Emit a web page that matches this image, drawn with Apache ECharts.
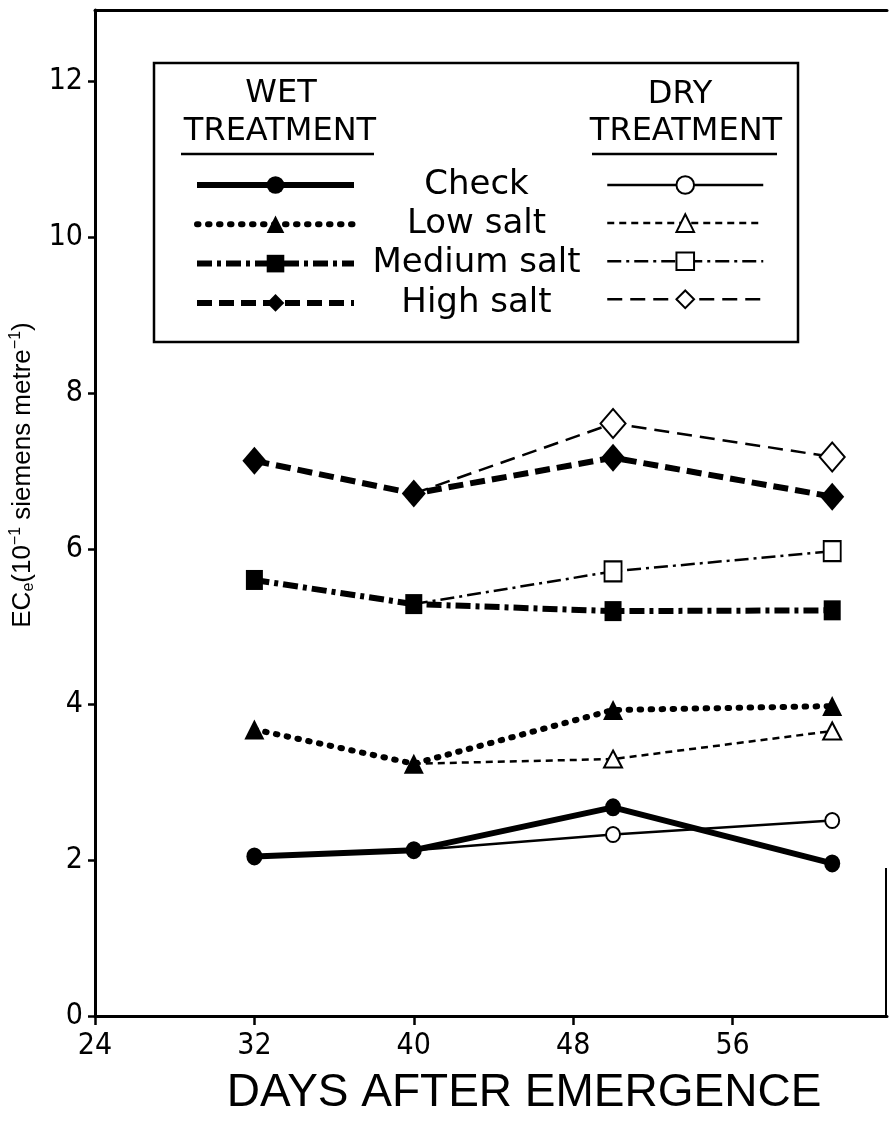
<!DOCTYPE html>
<html>
<head>
<meta charset="utf-8">
<title>EC_e after emergence</title>
<script src="https://cdn.jsdelivr.net/npm/echarts@6/dist/echarts.min.js"></script>
<style>
  html, body { margin: 0; padding: 0; background: #fff; }
  #chart { width: 889px; height: 1121px; }
</style>
</head>
<body>
<div id="chart"></div>
<script>
// Sampling days (days after emergence)
const days = [32, 40, 50, 61];
// The dry treatment branches off the wet curves at day 40
const dryDays = [40, 50, 61];

const salinity = ['Check', 'Low salt', 'Medium salt', 'High salt'];

// EC_e, 10^-1 siemens per metre
const wetCheck  = [2.05, 2.13, 2.68, 1.96];
const wetLow    = [3.68, 3.24, 3.93, 3.98];
const wetMedium = [5.60, 5.29, 5.20, 5.21];
const wetHigh   = [7.13, 6.71, 7.17, 6.67];

const dryCheck  = [2.13, 2.33, 2.51];
const dryLow    = [3.24, 3.30, 3.66];
const dryMedium = [5.29, 5.71, 5.97];
const dryHigh   = [6.71, 7.61, 7.18];

const xTicks = [24, 32, 40, 48, 56];
const yTicks = [0, 2, 4, 6, 8, 10, 12];

const tickFont = "'Liberation Sans Narrow', 'DejaVu Sans Condensed', 'Liberation Sans', sans-serif";
const textFont = "'DejaVu Sans', 'Liberation Sans', sans-serif";
const INK = '#000';

function wetSeries(name, vals, symbol, size, dash) {
  return {
    name: name,
    type: 'line',
    data: days.map((d, i) => [d, vals[i]]),
    symbol: symbol,
    symbolSize: size,
    lineStyle: { color: INK, width: 6, type: dash, cap: 'butt' },
    itemStyle: { color: INK },
    z: 4,
    animation: false,
    silent: true
  };
}

function drySeries(name, vals, symbol, size, dash) {
  return {
    name: name,
    type: 'line',
    // first point sits on the wet marker, so it gets no symbol of its own
    data: dryDays.map((d, i) => i === 0 ? { value: [d, vals[i]], symbol: 'none' } : [d, vals[i]]),
    symbol: symbol,
    symbolSize: size,
    lineStyle: { color: INK, width: 2.5, type: dash, cap: 'butt' },
    itemStyle: { color: INK, borderWidth: 2.5 },
    z: 3,
    animation: false,
    silent: true
  };
}

const dryNames = salinity.map(s => s + ' (dry)');

const series = [
  drySeries(dryNames[0], dryCheck,  'emptyCircle',   [14, 15], 'solid'),
  drySeries(dryNames[1], dryLow,    'emptyTriangle', [18, 17], [7, 5]),
  drySeries(dryNames[2], dryMedium, 'emptyRect',     [17, 20], [14, 5, 3, 5]),
  drySeries(dryNames[3], dryHigh,   'emptyDiamond',  [25, 29], [15, 8]),
  wetSeries(salinity[0], wetCheck,  'circle',   [16, 18], 'solid'),
  wetSeries(salinity[1], wetLow,    'triangle', [20, 20], [1.5, 9.5]),
  wetSeries(salinity[2], wetMedium, 'rect',     [17, 20], [15, 5, 4, 5]),
  wetSeries(salinity[3], wetHigh,   'diamond',  [24, 28], [15, 7])
];
// the wet dotted line uses round dots
series[5].lineStyle.cap = 'round';

const chart = echarts.init(document.getElementById('chart'), null, { renderer: 'canvas' });

const option = {
  animation: false,
  backgroundColor: '#fff',
  grid: { left: 93, right: 2, top: 10, bottom: 99 },
  xAxis: [
    {
      type: 'value',
      position: 'bottom',
      min: 24,
      max: 63.75,
      interval: 8,
      axisLine: { show: true, onZero: false, lineStyle: { color: INK, width: 3 } },
      axisTick: { show: true, length: 9, customValues: xTicks, lineStyle: { color: INK, width: 2.5 } },
      axisLabel: { customValues: xTicks, margin: 15, fontSize: 30, fontFamily: tickFont, color: INK },
      splitLine: { show: false },
      name: 'DAYS AFTER EMERGENCE',
      nameLocation: 'middle',
      nameGap: 54,
      nameTextStyle: { fontSize: 46, fontFamily: "'Liberation Sans', sans-serif", color: INK, padding: [0, 0, 0, 66] }
    },
    {
      type: 'value',
      position: 'top',
      min: 24,
      max: 63.75,
      axisLine: { show: true, onZero: false, lineStyle: { color: INK, width: 3 } },
      axisTick: { show: false },
      axisLabel: { show: false },
      splitLine: { show: false }
    }
  ],
  yAxis: {
    type: 'value',
    min: 0,
    max: 12.92,
    interval: 2,
    axisLine: { show: true, onZero: false, lineStyle: { color: INK, width: 3 } },
    axisTick: { show: true, length: 7, customValues: yTicks, lineStyle: { color: INK, width: 2.5 } },
    axisLabel: { customValues: yTicks, margin: 12, fontSize: 30, fontFamily: tickFont, color: INK },
    splitLine: { show: false },
    name: '{n|EC}{s|e}{n|(10}{p|\u22121}{n| siemens metre}{p|\u22121}{n|)}',
    nameLocation: 'middle',
    nameRotate: 90,
    nameGap: 58,
    nameTextStyle: {
      color: INK,
      fontFamily: "'Liberation Sans', sans-serif",
      fontSize: 26,
      padding: [0, 0, 0, 76],
      rich: {
        n: { fontSize: 26, lineHeight: 29, fontFamily: "'Liberation Sans', sans-serif", color: INK },
        s: { fontSize: 16, lineHeight: 16, verticalAlign: 'bottom', fontFamily: "'Liberation Sans', sans-serif", color: INK },
        p: { fontSize: 16, lineHeight: 16, verticalAlign: 'top', fontFamily: "'Liberation Sans', sans-serif", color: INK }
      }
    }
  },
  legend: [
    {
      orient: 'vertical',
      left: 194,
      top: 168,
      padding: 0,
      itemWidth: 157,
      itemHeight: 22,
      itemGap: 5.3,
      selectedMode: false,
      data: salinity,
      lineStyle: { width: 6 },
      formatter: name => '{c|' + name + '}',
      textStyle: {
        rich: {
          c: { width: 235, align: 'center', fontSize: 34, lineHeight: 22, fontFamily: textFont, color: INK }
        }
      }
    },
    {
      orient: 'vertical',
      left: 606,
      top: 174,
      padding: 0,
      itemWidth: 156,
      itemHeight: 22,
      itemGap: 17.3,
      selectedMode: false,
      data: dryNames,
      lineStyle: { width: 2.5 },
      formatter: () => ''
    }
  ],
  graphic: [
    { type: 'rect', silent: true, shape: { x: 154, y: 63, width: 644, height: 279 },
      style: { fill: null, stroke: INK, lineWidth: 2.5 } },
    { type: 'text', silent: true, x: 281, y: 94,
      style: { text: 'WET', font: "32px " + textFont, fill: INK, align: 'center', verticalAlign: 'middle' } },
    { type: 'text', silent: true, x: 280, y: 132,
      style: { text: 'TREATMENT', font: "32px " + textFont, fill: INK, align: 'center', verticalAlign: 'middle' } },
    { type: 'line', silent: true, shape: { x1: 181, y1: 154, x2: 374, y2: 154 },
      style: { stroke: INK, lineWidth: 2.5 } },
    { type: 'text', silent: true, x: 680, y: 95,
      style: { text: 'DRY', font: "32px " + textFont, fill: INK, align: 'center', verticalAlign: 'middle' } },
    { type: 'text', silent: true, x: 686, y: 132,
      style: { text: 'TREATMENT', font: "32px " + textFont, fill: INK, align: 'center', verticalAlign: 'middle' } },
    { type: 'line', silent: true, shape: { x1: 592, y1: 154, x2: 777, y2: 154 },
      style: { stroke: INK, lineWidth: 2.5 } }
  ],
  series: series
};

chart.setOption(option);

// short stub of the right-hand frame near the x axis
const pBottom = chart.convertToPixel({ gridIndex: 0 }, [63.75, 0]);
const pStub = chart.convertToPixel({ gridIndex: 0 }, [63.75, 1.9]);
const graphics = option.graphic.slice();
graphics.push({
  type: 'line', silent: true,
  shape: { x1: pBottom[0] - 1, y1: pStub[1], x2: pBottom[0] - 1, y2: pBottom[1] },
  style: { stroke: INK, lineWidth: 2 }
});
chart.setOption({ graphic: graphics }, { replaceMerge: ['graphic'] });
</script>
</body>
</html>
